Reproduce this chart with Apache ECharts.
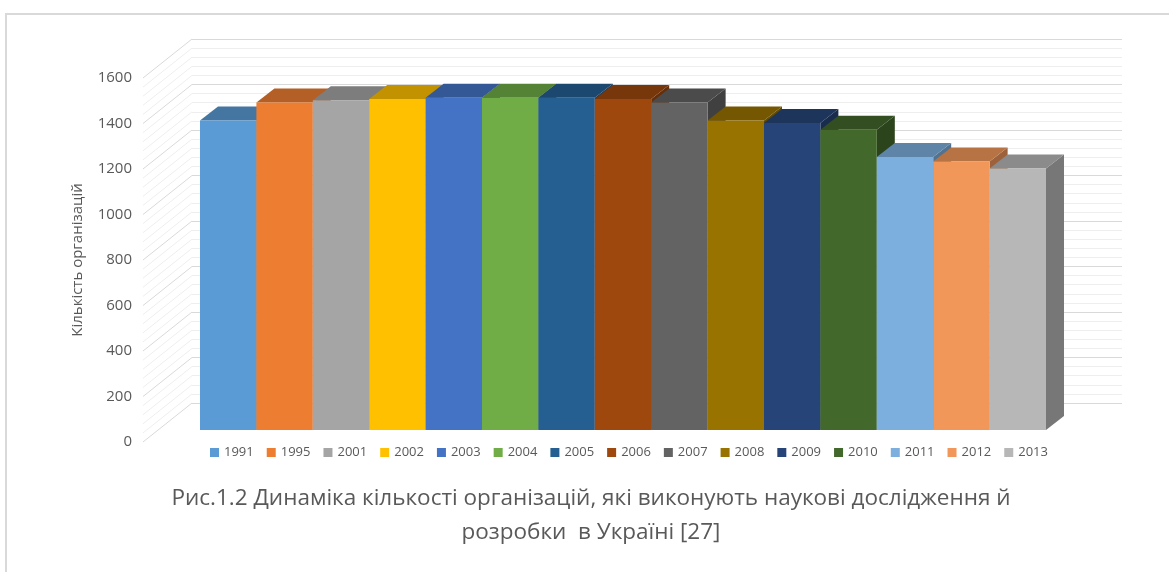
<!DOCTYPE html>
<html>
<head>
<meta charset="utf-8">
<script src="https://cdn.jsdelivr.net/npm/echarts@6/dist/echarts.min.js"></script>
<style>
  html, body { margin: 0; padding: 0; background: #fff; }
  #frame { position: absolute; left: 5px; top: 13px; width: 1200px; height: 600px;
           border-left: 2px solid #d9d9d9; border-top: 2px solid #d9d9d9; }
  #chart { position: absolute; left: 0; top: 0; width: 1169px; height: 572px; }
</style>
</head>
<body>
<div id="frame"></div>
<div id="chart"></div>
<script>
// роки та кількість організацій
var years = ['1991', '1995', '2001', '2002', '2003', '2004', '2005', '2006',
             '2007', '2008', '2009', '2010', '2011', '2012', '2013'];
var counts = [1360, 1440, 1450, 1455, 1460, 1460, 1460, 1455,
              1440, 1360, 1350, 1320, 1200, 1180, 1150];
var colors = ['#5B9BD5', '#ED7D31', '#A5A5A5', '#FFC000', '#4472C4', '#70AD47', '#255E91', '#9E480E',
              '#636363', '#997300', '#264478', '#43682B', '#7CAFDD', '#F1975A', '#B7B7B7'];

// вісь Y
var yMin = 0, yMax = 1600, yStep = 200, yMinor = 40;

var font = 'Open Sans';
var textColor = '#595959';

function shade(hex, k) {
  var n = parseInt(hex.slice(1), 16);
  var r = Math.round(((n >> 16) & 255) * k);
  var g = Math.round(((n >> 8) & 255) * k);
  var b = Math.round((n & 255) * k);
  return 'rgb(' + r + ',' + g + ',' + b + ')';
}

// лінії бічної стінки
var wallTicks = [];
for (var v = yMin; v <= yMax; v += yMinor) wallTicks.push([0, v]);

var DX = 18, DY = -14;       // глибина стовпчика
var WX = 49, WY = -39;       // глибина стінки

var series = [{
  type: 'custom',
  xAxisIndex: 0, yAxisIndex: 0,
  silent: true,
  data: wallTicks,
  renderItem: function (params, api) {
    var p = api.coord([0, api.value(1)]);
    var major = api.value(1) % yStep === 0;
    return {
      type: 'line',
      shape: { x1: p[0], y1: p[1], x2: p[0] + WX, y2: p[1] + WY },
      style: { stroke: major ? '#d9d9d9' : '#eeeeee', lineWidth: 1 }
    };
  }
}];

years.forEach(function (y, i) {
  var c = colors[i];
  series.push({
    name: y,
    type: 'custom',
    xAxisIndex: 2, yAxisIndex: 2,
    itemStyle: { color: c },
    data: [[i, counts[i]]],
    renderItem: function (params, api) {
      var base = api.coord([api.value(0), 0]);
      var top = api.coord([api.value(0), api.value(1)]);
      var w = api.size([1, 0])[0];
      var x0 = top[0] - w / 2, x1 = top[0] + w / 2, y0 = base[1], y1 = top[1];
      return {
        type: 'group',
        children: [
          { type: 'polygon', shape: { points: [[x1, y0], [x1 + DX, y0 + DY], [x1 + DX, y1 + DY], [x1, y1]] },
            style: { fill: shade(c, 0.65) } },
          { type: 'polygon', shape: { points: [[x0, y1], [x0 + DX, y1 + DY], [x1 + DX, y1 + DY], [x1, y1]] },
            style: { fill: shade(c, 0.76) } },
          { type: 'rect', shape: { x: x0, y: y1, width: w, height: y0 - y1 }, style: { fill: c } }
        ]
      };
    }
  });
});

var chart = echarts.init(document.getElementById('chart'));
chart.setOption({
  animation: false,
  title: {
    text: 'Рис.1.2 Динаміка кількості організацій, які виконують наукові дослідження й\nрозробки  в Україні [27]',
    left: 586, top: 477, textAlign: 'center',
    textStyle: { fontFamily: font, fontSize: 22.5, fontWeight: 'normal', color: textColor, lineHeight: 34 }
  },
  legend: {
    data: years,
    left: 205, top: 441,
    icon: 'rect', itemWidth: 9, itemHeight: 9, itemGap: 13,
    textStyle: { fontFamily: font, fontSize: 13, color: textColor }
  },
  grid: [
    { left: 143, top: 78, width: 49, height: 364 },   // передня грань (підписи)
    { left: 192, top: 39, width: 930, height: 364 },  // задня стінка
    { left: 200, top: 66, width: 846, height: 364 }   // стовпчики
  ],
  xAxis: [
    { gridIndex: 0, type: 'value', min: 0, max: 1, show: false },
    { gridIndex: 1, type: 'value', min: 0, max: 1, show: false },
    { gridIndex: 2, type: 'category', data: years, show: false }
  ],
  yAxis: [
    { gridIndex: 0, type: 'value', min: yMin, max: yMax, interval: yStep,
      name: 'Кількість організацій', nameLocation: 'middle', nameGap: 58, nameRotate: 90,
      nameTextStyle: { fontFamily: font, fontSize: 15, color: textColor },
      axisLine: { show: false }, axisTick: { show: false }, splitLine: { show: false },
      axisLabel: { fontFamily: font, fontSize: 15, color: textColor, margin: 11,
                   formatter: function (v) { return String(v); } } },
    { gridIndex: 1, type: 'value', min: yMin, max: yMax, interval: yStep,
      axisLine: { show: false }, axisTick: { show: false }, axisLabel: { show: false },
      splitLine: { lineStyle: { color: '#d9d9d9' } },
      minorTick: { show: false, splitNumber: yStep / yMinor },
      minorSplitLine: { show: true, lineStyle: { color: '#eeeeee' } } },
    { gridIndex: 2, type: 'value', min: yMin, max: yMax, show: false }
  ],
  series: series
});
</script>
</body>
</html>
